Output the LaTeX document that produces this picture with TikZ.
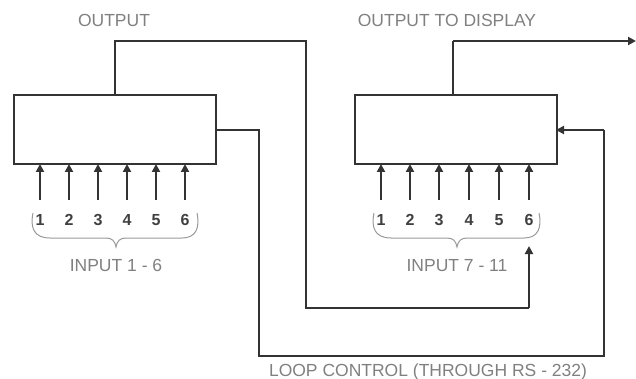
\documentclass[tikz,border=0pt]{standalone}
\usepackage{fontspec}
\setmainfont{Liberation Sans}
\usetikzlibrary{arrows.meta}
\definecolor{ln}{gray}{0.2}
\definecolor{tx}{gray}{0.5}
\definecolor{num}{gray}{0.25}
\tikzset{
  wire/.style={draw=ln, line width=2pt},
  arr/.style={wire, -{Triangle[length=8pt,width=8pt]}},
  blk/.style={draw=ln, line width=2.2pt, fill=white, minimum width=202pt, minimum height=69pt, inner sep=0pt},
  lbl/.style={text=tx, font=\fontsize{17.5}{19}\selectfont, inner sep=0pt},
  numl/.style={text=num, font=\fontsize{16}{18}\selectfont\bfseries, inner sep=0pt},
  brc/.style={draw=tx!80, line width=1pt}
}
\begin{document}
\begin{tikzpicture}[x=1pt,y=-1pt]
\useasboundingbox (0,0) rectangle (636,379);
% blocks
\node[blk, anchor=north west] (b1) at (13,94) {};
\node[blk, anchor=north west] (b2) at (354,94) {};
% coordinates
\coordinate (o1) at (115,94);
\coordinate (o1a) at (115,41);
\coordinate (o1b) at (306,41);
\coordinate (o1c) at (306,308);
\coordinate (o1d) at (529,308);
\coordinate (o1e) at (529,246);
\coordinate (r1) at (215,130);
\coordinate (r1a) at (259,130);
\coordinate (r1b) at (259,356);
\coordinate (r1c) at (604,356);
\coordinate (r1d) at (604,130);
\coordinate (r2) at (556,130);
\coordinate (o2) at (453,94);
\coordinate (o2a) at (453,41);
\coordinate (o2b) at (636,41);
% wires
\draw[wire] (o1) -- (o1a) -- (o1b) -- (o1c) -- (o1d);
\draw[arr] (o1d) -- (o1e);
\draw[wire] (r1) -- (r1a) -- (r1b) -- (r1c) -- (r1d);
\draw[arr] (r1d) -- (r2);
\draw[wire] (o2) -- (o2a);
\draw[arr] (o2a) -- (o2b);
% input arrows block 1
\foreach \x/\n in {40/1,69/2,98/3,127/4,156/5,185/6}{
  \coordinate (a1\n) at (\x,200);
  \coordinate (t1\n) at (\x,164);
  \draw[arr] (a1\n) -- (t1\n);
  \node[numl] (n1\n) at (\x,220) {\n};
}
\foreach \x/\n in {381/1,410/2,439/3,469/4,499/5,529/6}{
  \coordinate (a2\n) at (\x,200);
  \coordinate (t2\n) at (\x,164);
  \draw[arr] (a2\n) -- (t2\n);
  \node[numl] (n2\n) at (\x,220) {\n};
}
% braces
\draw[brc] (33,213) .. controls (30,228) and (34,238) .. (50,238) -- (106,238)
  .. controls (112,238) and (115,241) .. (116,247)
  .. controls (117,241) and (120,238) .. (126,238) -- (182,238)
  .. controls (196,238) and (200,228) .. (197,213);
\draw[brc] (374,213) .. controls (371,228) and (375,238) .. (391,238) -- (447,238)
  .. controls (453,238) and (456,241) .. (457,247)
  .. controls (458,241) and (461,238) .. (467,238) -- (524,238)
  .. controls (538,238) and (542,228) .. (539,213);
% labels
\node[lbl] (lo1) at (114,20) {OUTPUT};
\node[lbl] (lo2) at (447,20) {OUTPUT TO DISPLAY};
\node[lbl] (li1) at (116,265) {INPUT 1 - 6};
\node[lbl] (li2) at (457,266) {INPUT 7 - 11};
\node[lbl] (llc) at (428,372) {LOOP CONTROL (THROUGH RS - 232)};
\end{tikzpicture}
\end{document}
